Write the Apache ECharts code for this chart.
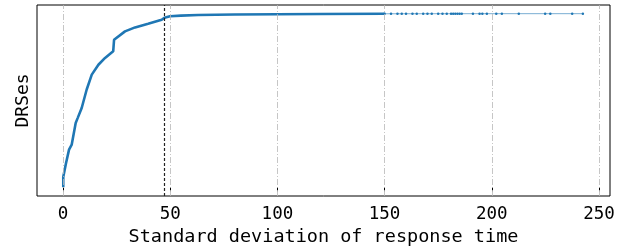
<!DOCTYPE html>
<html>
<head>
<meta charset="utf-8">
<script src="https://cdn.jsdelivr.net/npm/echarts@6/dist/echarts.min.js"></script>
<style>
html, body { margin: 0; padding: 0; background: #fff; }
#main { width: 627px; height: 252px; }
</style>
</head>
<body>
<div id="main"></div>
<script>
var dom = document.getElementById("main");
var myChart = echarts.init(dom);

// CDF of std. deviation of response time
var sdX = [0.1, 0.1, 1.4, 2.8, 4.05, 5.9, 6.85, 8.7, 11.0, 13.4, 16.5, 19.6, 23.4, 23.8, 28.9, 33.6, 39.7, 46, 47.3, 49.9, 55, 63, 80, 100, 120, 150];
var cdf = [0.0, 0.06, 0.14, 0.217, 0.246, 0.371, 0.40, 0.457, 0.562, 0.649, 0.706, 0.745, 0.783, 0.85, 0.898, 0.921, 0.942, 0.965, 0.976, 0.985, 0.989, 0.992, 0.995, 0.997, 0.998, 0.9995];
var tailX = [150, 153, 156, 158, 160, 163, 165, 168, 170, 172, 175, 177, 179, 181, 182, 183, 184, 185, 186, 191.2, 194.3, 195.6, 197.7, 202.1, 204.7, 212.6, 224.9, 227.3, 237.5, 242.5];
var tailY = [0.9995, 0.9995, 0.9996, 0.9996, 0.9996, 0.9997, 0.9997, 0.9997, 0.9997, 0.9998, 0.9998, 0.9998, 0.9998, 0.9998, 0.9998, 0.9998, 0.9999, 0.9999, 0.9999, 0.9999, 0.9999, 0.9999, 0.9999, 0.9999, 1, 1, 1, 1, 1, 1];
var xTicks = [0, 50, 100, 150, 200, 250];
var threshold = 47.3;

var mainData = [];
for (var i = 0; i < sdX.length; i++) {
    mainData.push([sdX[i], cdf[i]]);
}
var tailData = [];
for (var j = 0; j < tailX.length; j++) {
    tailData.push([tailX[j], tailY[j]]);
}

var gridLines = [];
for (var k = 0; k < xTicks.length; k++) {
    gridLines.push({xAxis: xTicks[k]});
}

var font = 'DejaVu Sans Mono';

option = {
    backgroundColor: '#fff',
    animation: false,
    grid: {
        left: 37, right: 17, top: 5, bottom: 56,
        show: true,
        borderColor: '#000',
        borderWidth: 1
    },
    xAxis: {
        type: 'value',
        min: -12.15,
        max: 255.15,
        name: 'Standard deviation of response time',
        nameLocation: 'middle',
        nameGap: 32,
        nameTextStyle: {fontFamily: font, fontSize: 18.5, color: '#000'},
        axisLine: {show: false},
        splitLine: {show: false},
        axisTick: {
            show: true, length: 4, inside: false,
            customValues: xTicks,
            lineStyle: {color: '#000', width: 1}
        },
        axisLabel: {
            customValues: xTicks,
            margin: 9,
            fontFamily: font, fontSize: 17.5, color: '#000'
        }
    },
    yAxis: {
        type: 'value',
        min: -0.05,
        max: 1.05,
        name: 'DRSes',
        nameLocation: 'middle',
        nameGap: 5,
        nameTextStyle: {fontFamily: font, fontSize: 18, color: '#000'},
        axisLine: {show: false},
        axisTick: {show: false},
        axisLabel: {show: false},
        splitLine: {show: false}
    },
    series: [{
        type: 'line',
        data: mainData,
        symbol: 'none',
        lineStyle: {color: '#1f77b4', width: 2.6},
        z: 3,
        markLine: {
            silent: true,
            symbol: 'none',
            label: {show: false},
            animation: false,
            data: gridLines,
            lineStyle: {color: '#b8b8b8', width: 0.8, type: [6, 2, 1, 2]}
        }
    }, {
        type: 'line',
        data: tailData,
        symbol: 'circle',
        symbolSize: 2.5,
        showAllSymbol: true,
        itemStyle: {color: '#1f77b4'},
        lineStyle: {color: '#1f77b4', width: 1, opacity: 0.6},
        z: 3,
        markLine: {
            silent: true,
            symbol: 'none',
            label: {show: false},
            animation: false,
            data: [{xAxis: threshold}],
            lineStyle: {color: '#222', width: 1.2, type: [3, 2]}
        }
    }]
};

if (option && typeof option === "object") {
    myChart.setOption(option, true);
}
</script>
</body>
</html>
